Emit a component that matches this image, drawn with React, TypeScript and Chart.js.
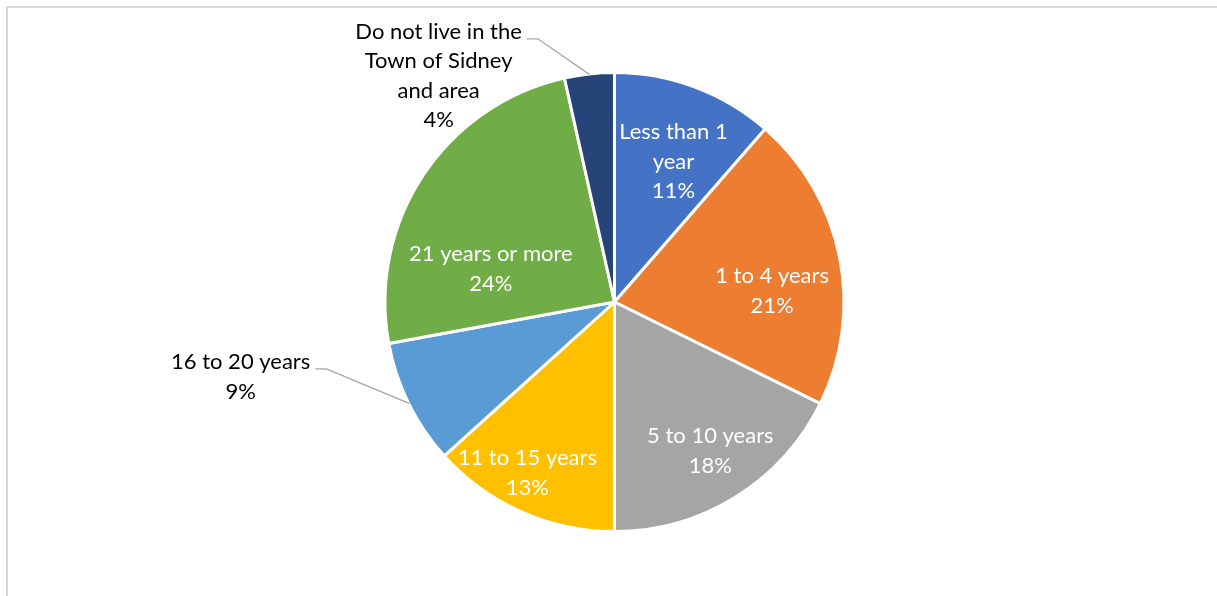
import React, { useEffect, useRef } from "react";
import { Chart, registerables } from "chart.js";

Chart.register(...registerables);

// ---- data ----
const categories: string[] = [
  "Less than 1 year",
  "1 to 4 years",
  "5 to 10 years",
  "11 to 15 years",
  "16 to 20 years",
  "21 years or more",
  "Do not live in the Town of Sidney and area",
];
const categoryLines: string[][] = [
  ["Less than 1", "year"],
  ["1 to 4 years"],
  ["5 to 10 years"],
  ["11 to 15 years"],
  ["16 to 20 years"],
  ["21 years or more"],
  ["Do not live in the", "Town of Sidney", "and area"],
];
const shares: number[] = [11.4, 20.9, 17.7, 13.3, 8.8, 24.4, 3.5];

// ---- style ----
const colors = ["#4472C4", "#ED7D31", "#A5A5A5", "#FFC000", "#5B9BD5", "#70AD47", "#264478"];
// label placement: clock angle (deg from top, clockwise), distance in pie radii, inside?
const labelPlacement = [
  { angle: 22.8, dist: 0.667, inside: true },
  { angle: 86, dist: 0.693, inside: true },
  { angle: 147.2, dist: 0.776, inside: true },
  { angle: 207, dist: 0.842, inside: true },
  { angle: 258.7, dist: 1.672, inside: false },
  { angle: 284.9, dist: 0.561, inside: true },
  { angle: 322.1, dist: 1.256, inside: false },
];
const FONT = "22px Lato, 'Noto Sans', sans-serif";
const LINE_H = 29.5;

const labelPlugin = {
  id: "customLabels",
  beforeDraw(chart: any) {
    const ctx = chart.ctx;
    ctx.save();
    ctx.fillStyle = "#ffffff";
    ctx.fillRect(0, 0, chart.width, chart.height);
    ctx.fillStyle = "#D9D9D9";
    ctx.fillRect(6, 6, chart.width, 2);
    ctx.fillRect(6, 6, 2, chart.height);
    ctx.restore();
  },
  afterDatasetsDraw(chart: any) {
    const ctx = chart.ctx;
    const meta = chart.getDatasetMeta(0);
    const total = shares.reduce((a, b) => a + b, 0);
    ctx.save();
    ctx.font = FONT;
    ctx.textAlign = "center";
    ctx.textBaseline = "middle";
    meta.data.forEach((arc: any, i: number) => {
      const { x: cx, y: cy, outerRadius: R0, startAngle, endAngle } = arc.getProps(
        ["x", "y", "outerRadius", "startAngle", "endAngle"],
        true
      );
      const R = R0 - 1.5;
      const pl = labelPlacement[i];
      const a = ((pl.angle - 90) * Math.PI) / 180;
      const lx = cx + Math.cos(a) * R * pl.dist;
      const ly = cy + Math.sin(a) * R * pl.dist;
      const lines = [...categoryLines[i], Math.round((shares[i] / total) * 100) + "%"];
      const n = lines.length;
      ctx.fillStyle = pl.inside ? "#ffffff" : "#000000";
      lines.forEach((t, k) => {
        ctx.fillText(t, lx, ly + (k - (n - 1) / 2) * LINE_H);
      });
      if (!pl.inside) {
        const firstY = ly - ((n - 1) / 2) * LINE_H + 7;
        const w = ctx.measureText(lines[0]).width;
        const sx = lx + w / 2 + 5;
        const mid = (startAngle + endAngle) / 2;
        const ex = cx + Math.cos(mid) * (R + 1);
        const ey = cy + Math.sin(mid) * (R + 1);
        ctx.strokeStyle = "#A6A6A6";
        ctx.lineWidth = 1.3;
        ctx.beginPath();
        ctx.moveTo(sx, firstY);
        ctx.lineTo(sx + 11, firstY);
        ctx.lineTo(ex, ey);
        ctx.stroke();
      }
    });
    ctx.restore();
  },
};

export default function App() {
  const ref = useRef<HTMLCanvasElement>(null);
  useEffect(() => {
    if (!ref.current) return;
    const chart = new Chart(ref.current, {
      type: "pie",
      data: {
        labels: categories,
        datasets: [
          {
            data: shares,
            backgroundColor: colors,
            borderColor: "#ffffff",
            borderWidth: 3,
          },
        ],
      },
      options: {
        animation: false,
        responsive: false,
        layout: { padding: { top: 71, bottom: 63, left: 383.5, right: 371.5 } },
        plugins: {
          legend: { display: false },
          tooltip: { enabled: false },
        },
      },
      plugins: [labelPlugin],
    });
    return () => chart.destroy();
  }, []);
  return (
    <div style={{ position: "absolute", left: 0, top: 0, width: 1217, height: 596, overflow: "hidden" }}>
      <canvas ref={ref} width={1217} height={596} style={{ display: "block" }} />
    </div>
  );
}
